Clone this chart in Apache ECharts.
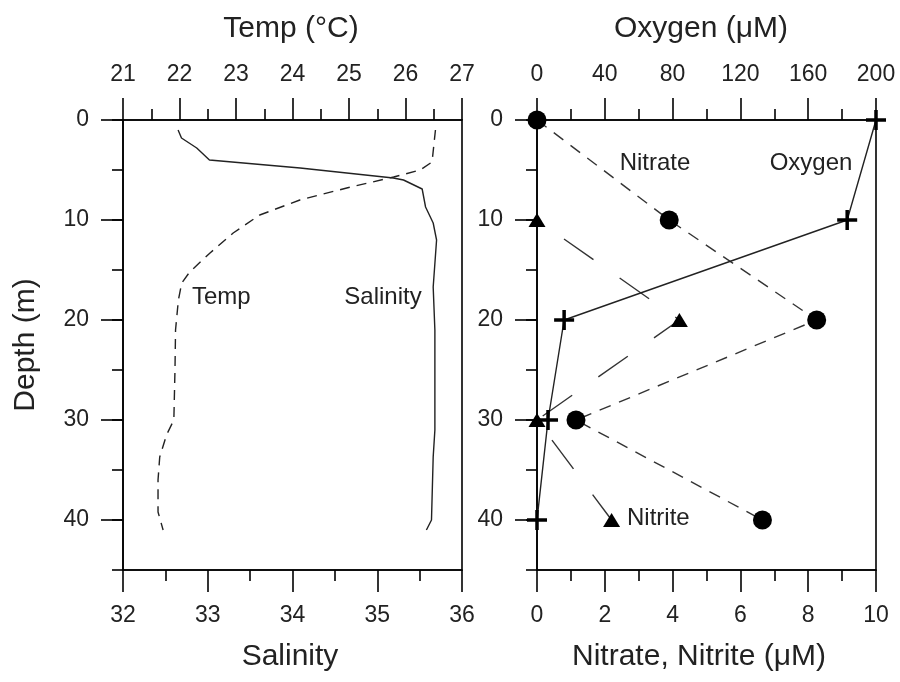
<!DOCTYPE html>
<html>
<head>
<meta charset="utf-8">
<title>Depth profiles</title>
<script src="https://cdn.jsdelivr.net/npm/echarts@6/dist/echarts.min.js"></script>
<style>
html, body { margin: 0; padding: 0; background: #fff; }
#chart { width: 900px; height: 682px; }
</style>
</head>
<body>
<div id="chart"></div>
<script>
// left panel, CTD cast
var tempDepth = [1, 4.2, 5, 5.7, 6.8, 8, 9.5, 11.3, 13.3, 15.2, 16.3, 18, 21, 25, 30, 31.5, 33.7, 36, 39.2, 41];
var temp = [26.53, 26.47, 26.26, 25.79, 24.96, 24.13, 23.42, 22.95, 22.54, 22.18, 22.04, 21.98, 21.93, 21.92, 21.9, 21.77, 21.65, 21.62, 21.62, 21.71];
var salDepth = [1, 1.8, 2.8, 4, 4.8, 5.8, 6, 6.9, 8.7, 10.3, 12, 16.7, 21, 31, 33.7, 40, 41];
var salinity = [32.65, 32.69, 32.87, 33.02, 34.09, 35.19, 35.31, 35.53, 35.57, 35.66, 35.7, 35.66, 35.68, 35.68, 35.66, 35.64, 35.58];

// right panel, bottle samples
var depth = [0, 10, 20, 30, 40];
var nitrate = [0, 3.9, 8.25, 1.15, 6.65];
var oxygen = [200, 183, 16, 6.5, 0];
var nitriteDepth = [10, 20, 30, 40];
var nitrite = [0, 4.2, 0, 2.2];

var depthTicks = [0, 10, 20, 30, 40];

var FONT = 'Liberation Sans, Arial, sans-serif';
var INK = '#000';
var TXT = '#222';

function pairs (xs, ys) {
  return xs.map(function (x, i) { return [x, ys[i]]; });
}

function xAx (grid, pos, min, max, step) {
  return {
    type: 'value', gridIndex: grid, position: pos,
    min: min, max: max, interval: step,
    axisLine: { show: true, onZero: false, lineStyle: { color: INK, width: 1.6 } },
    axisTick: { show: true, length: 22, lineStyle: { color: INK, width: 1.6 } },
    minorTick: { show: true, splitNumber: 2, length: 11, lineStyle: { color: INK, width: 1.6 } },
    axisLabel: { margin: 34, fontSize: 23, color: TXT, fontFamily: FONT },
    splitLine: { show: false },
    minorSplitLine: { show: false }
  };
}

function yMajor (grid) {
  return {
    type: 'value', gridIndex: grid, position: 'left', inverse: true,
    min: 0, max: 45,
    axisLine: { show: true, onZero: false, lineStyle: { color: INK, width: 1.6 } },
    axisTick: { show: true, length: 22, customValues: depthTicks, lineStyle: { color: INK, width: 1.6 } },
    axisLabel: { margin: 34, fontSize: 23, color: TXT, fontFamily: FONT, customValues: depthTicks },
    splitLine: { show: false }
  };
}

function yMinor (grid) {
  return {
    type: 'value', gridIndex: grid, position: 'left', inverse: true,
    min: 0, max: 45, interval: 5,
    axisLine: { show: false },
    axisTick: { show: true, length: 11, lineStyle: { color: INK, width: 1.6 } },
    axisLabel: { show: false },
    splitLine: { show: false }
  };
}

function txt (text, x, y, size, align, rot) {
  return {
    type: 'text', x: x, y: y, rotation: rot || 0, silent: true,
    style: {
      text: text, fill: TXT, fontSize: size, fontFamily: FONT,
      textAlign: align || 'center', textVerticalAlign: 'middle'
    }
  };
}

var plus = 'path://M8.25,0H11.75V8.25H20V11.75H11.75V20H8.25V11.75H0V8.25H8.25Z';

var chart = echarts.init(document.getElementById('chart'));
chart.setOption({
  animation: false,
  backgroundColor: '#fff',
  grid: [
    { left: 123, top: 120, width: 339, height: 450, show: true, borderColor: INK, borderWidth: 1.6, backgroundColor: 'transparent' },
    { left: 537, top: 120, width: 339, height: 450, show: true, borderColor: INK, borderWidth: 1.6, backgroundColor: 'transparent' }
  ],
  xAxis: [
    xAx(0, 'top', 21, 27, 1),
    xAx(0, 'bottom', 32, 36, 1),
    xAx(1, 'top', 0, 200, 40),
    xAx(1, 'bottom', 0, 10, 2)
  ],
  yAxis: [yMajor(0), yMinor(0), yMajor(1), yMinor(1)],
  series: [
    {
      name: 'Temp', type: 'line', xAxisIndex: 0, yAxisIndex: 0,
      data: pairs(temp, tempDepth), showSymbol: false, clip: false,
      lineStyle: { color: '#222', width: 1.4, type: [10, 7] }
    },
    {
      name: 'Salinity', type: 'line', xAxisIndex: 1, yAxisIndex: 0,
      data: pairs(salinity, salDepth), showSymbol: false, clip: false,
      lineStyle: { color: '#222', width: 1.4 }
    },
    {
      name: 'Nitrate', type: 'line', xAxisIndex: 3, yAxisIndex: 2,
      data: pairs(nitrate, depth), clip: false,
      symbol: 'circle', symbolSize: 19,
      itemStyle: { color: INK },
      lineStyle: { color: '#333', width: 1.4, type: [12, 9] }
    },
    {
      name: 'Nitrite', type: 'line', xAxisIndex: 3, yAxisIndex: 2,
      data: pairs(nitrite, nitriteDepth), clip: false,
      symbol: 'triangle', symbolSize: [17, 14],
      itemStyle: { color: INK },
      lineStyle: { color: '#333', width: 1.4, type: [36, 32], dashOffset: 35 }
    },
    {
      name: 'Oxygen', type: 'line', xAxisIndex: 2, yAxisIndex: 2,
      data: pairs(oxygen, depth), clip: false,
      symbol: plus, symbolSize: 20,
      itemStyle: { color: INK },
      lineStyle: { color: '#222', width: 1.4 }
    }
  ],
  graphic: [
    txt('Temp (°C)', 291, 29, 30),
    txt('Oxygen (μM)', 701, 29, 30),
    txt('Salinity', 290, 657, 30),
    txt('Nitrate, Nitrite (μM)', 699, 657, 30),
    txt('Depth (m)', 26, 345, 30, 'center', Math.PI / 2),
    txt('Temp', 192, 297, 24, 'left'),
    txt('Salinity', 383, 297, 24),
    txt('Nitrate', 655, 163, 24),
    txt('Oxygen', 811, 163, 24),
    txt('Nitrite', 627, 518, 24, 'left')
  ]
});
</script>
</body>
</html>
